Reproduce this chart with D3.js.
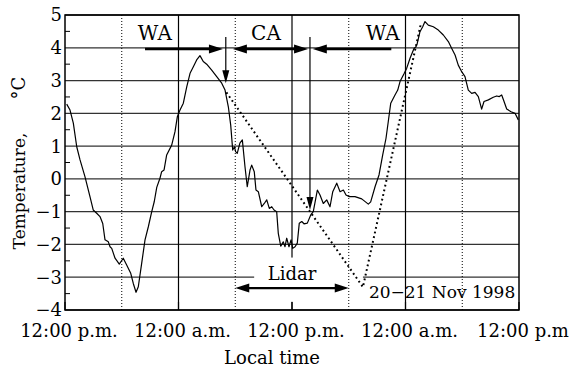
<!DOCTYPE html>
<html>
<head>
<meta charset="utf-8">
<script src="https://cdn.jsdelivr.net/npm/d3@7"></script>
<style>
  body { margin: 0; background: #fff; }
  svg { display: block; }
  text { font-family: "DejaVu Serif", "Liberation Serif", serif; fill: #000; }
</style>
</head>
<body>
<svg id="chart" width="569" height="371"></svg>
<script>
// Hours since 12:00 p.m. on 20 Nov, temperature in deg C
var hours = [0.18, 0.53, 0.88, 1.24, 1.59, 2.11, 2.64, 2.99, 3.35, 3.70, 3.99, 4.23, 4.58, 4.76, 4.94,
    5.29, 5.74, 6.16, 6.52, 6.95, 7.22, 7.51, 7.75, 8.11, 8.46, 8.81, 9.17, 9.44, 9.70, 10.04,
    10.22, 10.47, 10.75, 11.28, 11.63, 11.88, 12.16, 12.51, 12.87, 13.22, 13.57, 13.92, 14.27, 14.62,
    14.98, 15.51, 16.04, 16.57, 16.92, 17.27, 17.52, 17.73, 17.92, 18.04, 18.21, 18.49, 18.75, 19.03,
    19.27, 19.56, 19.74, 20.01, 20.19, 20.44, 20.80, 21.07, 21.33, 21.60, 21.86, 22.10, 22.38, 22.55,
    22.81, 23.08, 23.26, 23.44, 23.68, 23.90, 24.08, 24.32, 24.56, 24.77, 25.03, 25.27, 25.62, 25.98,
    26.25, 26.68, 26.96, 27.31, 27.67, 28.02, 28.31, 28.73, 29.08, 29.43, 29.71, 30.06, 30.66, 31.37,
    32.07, 32.32, 32.78, 33.20, 33.59, 33.94, 34.18, 34.44, 34.89, 35.18, 35.42, 35.87, 36.12, 36.48,
    36.90, 37.11, 37.25, 37.53, 37.82, 38.06, 38.41, 38.94, 39.47, 40.00, 40.53, 40.89, 41.24, 41.58,
    41.94, 42.29, 42.64, 43.00, 43.35, 43.70, 44.05, 44.30, 44.76, 45.28, 45.64, 45.92, 46.17, 46.42,
    46.70, 47.16, 47.58, 47.93];
var temps = [2.28, 2.1, 1.7, 0.98, 0.58, 0.07, -0.54, -0.95, -1.05, -1.15, -1.36, -1.86, -1.92, -2.07, -2.12,
    -2.42, -2.6, -2.42, -2.63, -2.88, -3.19, -3.46, -3.29, -2.57, -1.86, -1.46, -1.0, -0.69, -0.26, 0.02,
    0.22, 0.27, 0.73, 1.03, 1.44, 1.9, 2.1, 2.31, 2.81, 3.22, 3.42, 3.63, 3.76, 3.58,
    3.5, 3.32, 3.12, 2.92, 2.71, 2.2, 1.64, 0.88, 0.98, 0.83, 0.78, 1.09, 1.19, 0.37,
    -0.24, 0.27, 0.42, 0.22, -0.34, -0.39, -0.85, -0.75, -0.64, -0.9, -0.85, -0.95, -1.0, -1.66,
    -2.05, -1.92, -2.07, -1.81, -2.07, -1.86, -2.12, -2.07, -1.96, -1.35, -1.3, -1.37, -1.35, -1.1,
    -1.0, -0.34, -0.49, -0.75, -0.64, -0.85, -0.39, -0.13, -0.39, -0.34, -0.49, -0.54, -0.54, -0.61,
    -0.77, -0.7, -0.24, 0.12, 0.73, 1.24, 1.75, 2.31, 2.56, 2.71, 2.97, 3.22, 3.37, 3.68,
    3.98, 4.03, 4.14, 4.49, 4.64, 4.8, 4.69, 4.64, 4.54, 4.39, 4.19, 3.98, 3.78, 3.47,
    3.27, 3.12, 2.71, 2.61, 2.64, 2.51, 2.13, 2.36, 2.41, 2.49, 2.53, 2.51, 2.56, 2.36,
    2.13, 2.05, 2.0, 1.8];

// dotted line (lidar-derived)
var dotHours = [17.06, 31.5, 37.6];
var dotTemps = [2.64, -3.3, 4.7];

var yTicks = [-4, -3, -2, -1, 0, 1, 2, 3, 4, 5];
var xTickHours = [0, 12, 24, 36, 48];
var xTickLabels = ["12:00 p.m.", "12:00 a.m.", "12:00 p.m.", "12:00 a.m.", "12:00 p.m"];
var dottedHours = [6, 18, 30, 42];

var svg = d3.select("#chart");
var x = d3.scaleLinear().domain([0, 48]).range([65, 519]);
var y = d3.scaleLinear().domain([-4, 5]).range([310, 15]);

// horizontal grid
svg.append("g").selectAll("line").data(yTicks).enter().append("line")
    .attr("x1", x(0)).attr("x2", x(48))
    .attr("y1", function (d) { return y(d); }).attr("y2", function (d) { return y(d); })
    .attr("stroke", "#333").attr("stroke-width", 1.3);

// vertical solid grid
svg.append("g").selectAll("line").data(xTickHours.slice(1, 4)).enter().append("line")
    .attr("x1", function (d) { return x(d); }).attr("x2", function (d) { return x(d); })
    .attr("y1", y(5)).attr("y2", y(-4))
    .attr("stroke", "#000").attr("stroke-width", 1.2);

// white box behind the Lidar label
svg.append("rect")
    .attr("x", x(20)).attr("y", y(-2.4))
    .attr("width", x(31.5) - x(20)).attr("height", y(-3.75) - y(-2.4))
    .attr("fill", "#fff");

// dotted verticals
svg.append("g").selectAll("line").data(dottedHours).enter().append("line")
    .attr("x1", function (d) { return x(d); }).attr("x2", function (d) { return x(d); })
    .attr("y1", y(5)).attr("y2", y(-4))
    .attr("stroke", "#000").attr("stroke-width", 1).attr("stroke-dasharray", "1,2");

// minor ticks on left axis (inside)
svg.append("g").selectAll("line").data(d3.range(-3.5, 5, 1)).enter().append("line")
    .attr("x1", x(0)).attr("x2", x(0) + 5)
    .attr("y1", function (d) { return y(d); }).attr("y2", function (d) { return y(d); })
    .attr("stroke", "#000").attr("stroke-width", 1);

// bottom ticks (inside)
svg.append("g").selectAll("line").data(xTickHours).enter().append("line")
    .attr("x1", function (d) { return x(d); }).attr("x2", function (d) { return x(d); })
    .attr("y1", y(-4)).attr("y2", y(-4) - 8)
    .attr("stroke", "#000").attr("stroke-width", 1.2);

// frame
svg.append("rect")
    .attr("x", x(0)).attr("y", y(5))
    .attr("width", x(48) - x(0)).attr("height", y(-4) - y(5))
    .attr("fill", "none").attr("stroke", "#000").attr("stroke-width", 1.5);

// y tick labels
svg.append("g").selectAll("text").data(yTicks).enter().append("text")
    .attr("x", 62).attr("y", function (d) { return y(d); })
    .attr("dy", "0.36em")
    .attr("text-anchor", "end").attr("font-size", 18)
    .text(function (d) { return d3.format("d")(d); });

// x tick labels
svg.append("g").selectAll("text").data(xTickHours).enter().append("text")
    .attr("x", function (d) { return x(d) + 4; }).attr("y", 337)
    .attr("text-anchor", "middle").attr("font-size", 18)
    .text(function (d, i) { return xTickLabels[i]; });

// axis titles
svg.append("text").attr("x", x(24) - 20).attr("y", 364)
    .attr("text-anchor", "middle").attr("font-size", 18).text("Local time");
svg.append("text").attr("transform", "translate(25," + 191 + ") rotate(-90)")
    .attr("text-anchor", "middle").attr("font-size", 17).text("Temperature,");
svg.append("text").attr("transform", "translate(25," + 88 + ") rotate(-90)")
    .attr("text-anchor", "middle").attr("font-size", 18).text("°C");

// temperature curve
var line = d3.line()
    .x(function (d) { return x(d[0]); })
    .y(function (d) { return y(d[1]); });
svg.append("path")
    .datum(d3.zip(hours, temps))
    .attr("d", line)
    .attr("fill", "none").attr("stroke", "#000").attr("stroke-width", 1.2)
    .attr("stroke-linejoin", "round");

// dotted line
svg.append("path")
    .datum(d3.zip(dotHours, dotTemps))
    .attr("d", line)
    .attr("fill", "none").attr("stroke", "#000").attr("stroke-width", 2)
    .attr("stroke-dasharray", "1.8,3");

// arrows
function head(px, py, dir, len, hw) {
    // dir: "l","r","d"
    var pts;
    if (dir === "r") pts = [[px, py], [px - len, py - hw], [px - len, py + hw]];
    else if (dir === "l") pts = [[px, py], [px + len, py - hw], [px + len, py + hw]];
    else pts = [[px, py], [px - hw, py - len], [px + hw, py - len]];
    svg.append("path").attr("d", "M" + pts.join("L") + "Z").attr("fill", "#000");
}
function hArrow(h1, h2, t, leftHead, rightHead, w) {
    var x1 = x(h1), x2 = x(h2), yy = y(t);
    svg.append("line")
        .attr("x1", x1 + (leftHead ? 8 : 0)).attr("x2", x2 - (rightHead ? 8 : 0))
        .attr("y1", yy).attr("y2", yy)
        .attr("stroke", "#000").attr("stroke-width", w);
    if (leftHead) head(x1, yy, "l", 14, 4.5);
    if (rightHead) head(x2, yy, "r", 14, 4.5);
}
function vArrow(h, t1, t2) {
    var xx = x(h);
    svg.append("line").attr("x1", xx).attr("x2", xx)
        .attr("y1", y(t1)).attr("y2", y(t2) - 6)
        .attr("stroke", "#000").attr("stroke-width", 1.2);
    head(xx, y(t2), "d", 13, 3.5);
}
var arrowT = 3.96;
hArrow(8.46, 16.7, arrowT, false, true, 2.5);
hArrow(17.75, 25.7, arrowT, true, true, 2.5);
hArrow(26.2, 34.5, arrowT, true, false, 2.5);
vArrow(17.0, 4.33, 2.92);
vArrow(25.9, 4.33, -0.95);
hArrow(18, 30, -3.33, true, true, 2.2);

// labels
svg.append("text").attr("x", x(9.5)).attr("y", y(4.24)).attr("text-anchor", "middle")
    .attr("font-size", 20).text("WA");
svg.append("text").attr("x", x(21.25)).attr("y", y(4.24)).attr("text-anchor", "middle")
    .attr("font-size", 20).text("CA");
svg.append("text").attr("x", x(33.6)).attr("y", y(4.24)).attr("text-anchor", "middle")
    .attr("font-size", 20).text("WA");
svg.append("text").attr("x", x(24)).attr("y", y(-3.08)).attr("text-anchor", "middle")
    .attr("font-size", 18).text("Lidar");
svg.append("text").attr("x", x(47.6)).attr("y", y(-3.63)).attr("text-anchor", "end")
    .attr("font-size", 17).text("20\u221221 Nov 1998");
</script>
</body>
</html>
